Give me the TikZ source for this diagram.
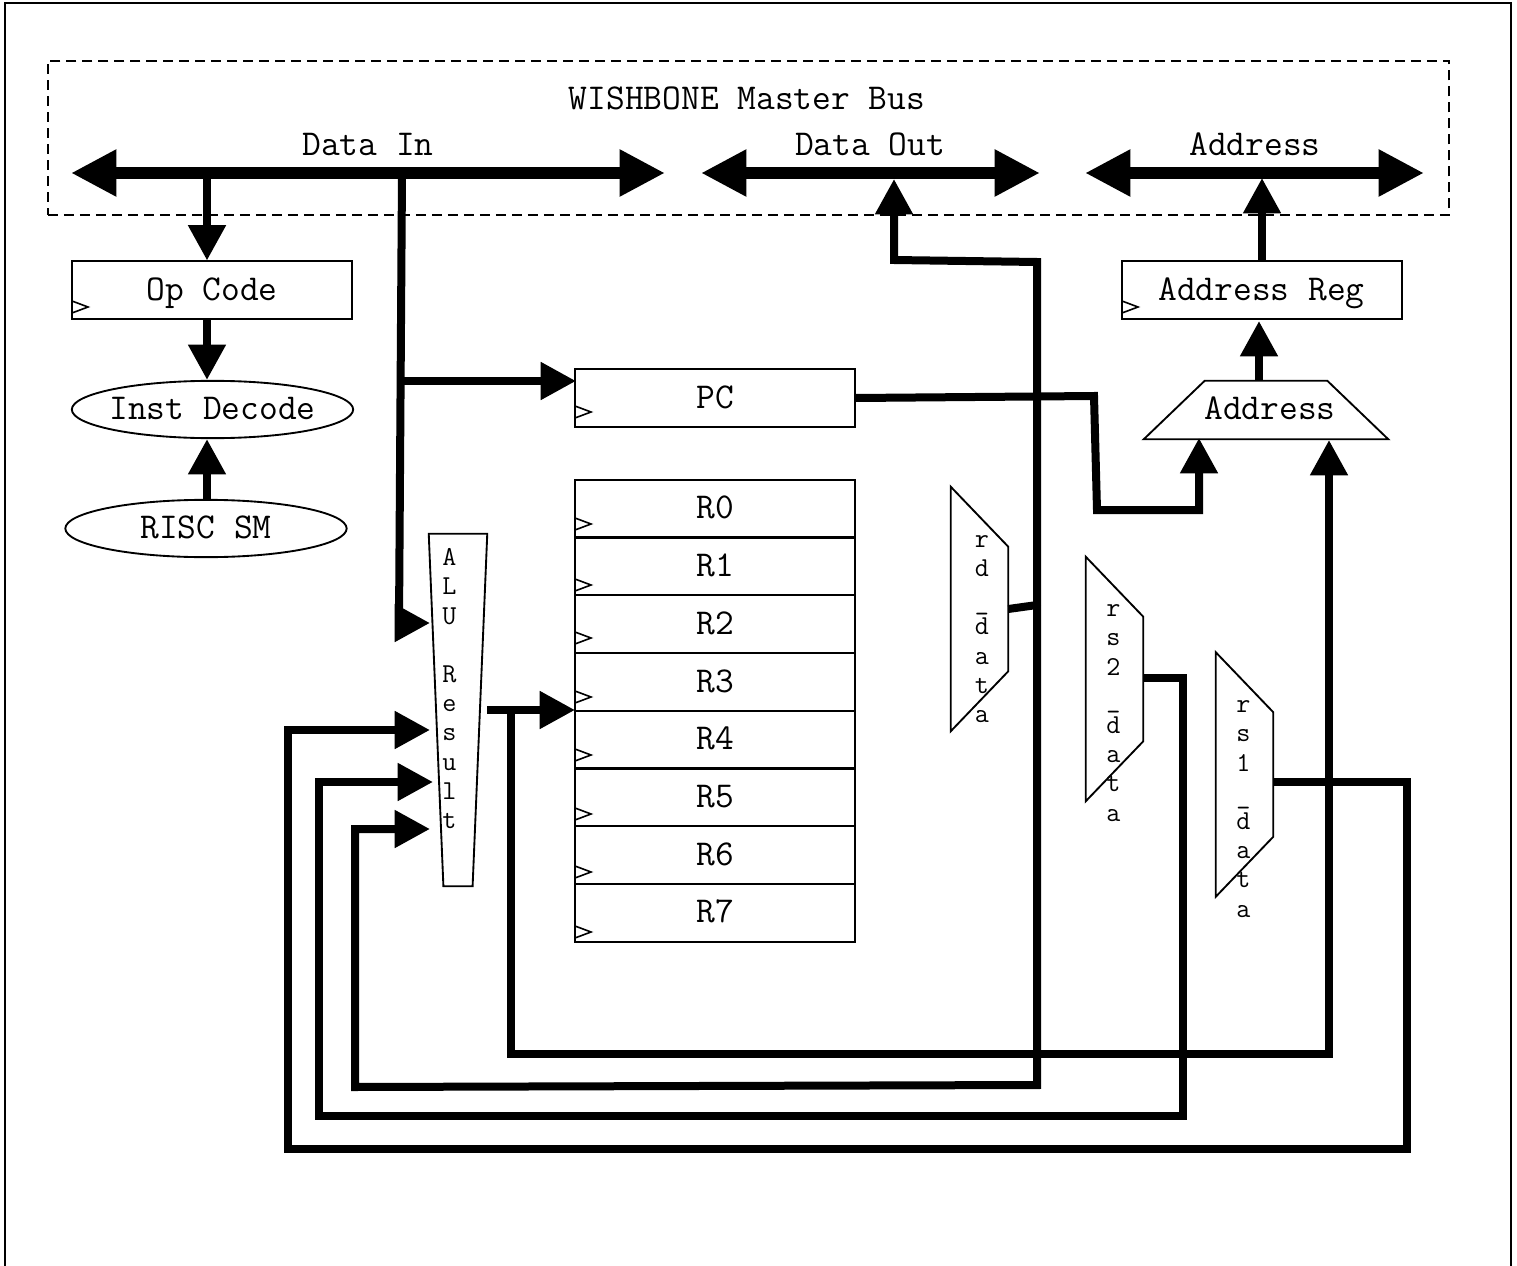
\documentclass[tikz,border=0pt]{standalone}
\usepackage{fontspec}
\usepackage{tikz}
\usetikzlibrary{shapes.geometric, arrows.meta}
\newcommand{\stackbar}{\smash{\raisebox{-2.5pt}{\_}}}

\begin{document}
\begin{tikzpicture}[
    x=0.75pt, y=-0.75pt,
    tag/.style={font=\fontsize{27.3}{27.3}\selectfont\ttfamily, inner sep=0pt},
    stack/.style={font=\fontsize{20.5}{21.9}\selectfont\ttfamily, align=center, inner sep=0pt},
    reg/.style={rectangle, draw, line width=1.5pt, minimum width=210pt, minimum height=43.5pt, inner sep=0pt, text height=17.5pt, text depth=2.5pt, font=\fontsize{27.3}{27.3}\selectfont\ttfamily},
    fsm/.style={ellipse, draw, line width=1.4pt, minimum width=211pt, minimum height=43pt, inner ysep=0pt, inner xsep=-5pt, text height=17.5pt, text depth=2.5pt, font=\fontsize{27.3}{27.3}\selectfont\ttfamily},
    mux/.style={rectangle, minimum width=42.75pt, minimum height=183pt, inner sep=0pt},
    outline/.style={line width=1.4pt},
    clk/.style={line width=1.2pt},
    bus/.style={{Triangle[length=34pt, width=33pt]}-{Triangle[length=34pt, width=33pt]}, line width=9pt},
    wire/.style={-{Triangle[length=26.5pt, width=27pt]}, line width=6pt, line join=miter},
]
\useasboundingbox (0,0) rectangle (1517,1266);

% === Frame and bus area ===
\draw[line width=2.2pt] (5,1270) -- (5,3) -- (1511,3) -- (1511,1270);
\node[rectangle, draw, dashed, dash pattern=on 7.5pt off 4.5pt, line width=1.3pt, minimum width=1051pt, minimum height=115.5pt] (master) at (748.5,138) {};
\node[tag] (mastertext) at (747,98) {WISHBONE Master Bus};
\node[tag] (dintext) at (368,144) {Data In};
\node[tag] (douttext) at (870,144) {Data Out};
\node[tag] (addrtext) at (1255,144) {Address};

% === Left column ===
\node[reg] (opcode) at (212,290.5) {Op Code};
\node[fsm] (decode) at (212.5,409.5) {Inst Decode};
\node[fsm] (risc) at (206,528.5) {RISC SM};

% === Registers ===
\node[reg] (pc) at (715,398) {PC};
\node[reg] (addrreg) at (1261.5,290.5) {Address Reg};
\foreach \i/\y in {0/508.5, 1/566, 2/624, 3/682, 4/739.5, 5/797, 6/855, 7/912.5}
    \node[reg] (r\i) at (715,\y) {R\i};

% === Clock marks ===
\foreach \x/\y in {72/307, 1122/307, 575/412, 575/524, 575/585, 575/638, 575/697, 575/755, 575/814, 575/872, 575/932}
    \draw[clk] (\x,\y-6) -- (\x+16,\y) -- (\x,\y+6);

% === Muxes ===
\node[rectangle, minimum width=183pt, minimum height=43.5pt, inner sep=0pt,
    label={[tag, xshift=3pt, yshift=1.5pt]center:Address}] (addrmux) at (1266,410) {};
\draw[outline] ([xshift=45.75pt]addrmux.north west) -- ([xshift=-45.75pt]addrmux.north east) -- (addrmux.south east) -- (addrmux.south west) -- cycle;
\node[rectangle, minimum width=43.5pt, minimum height=264pt, inner sep=0pt,
    label={[stack, xshift=-6.5pt, yshift=16pt]center:A\\L\\U\\\\R\\e\\s\\u\\l\\t}] (alu) at (458,710) {};
\draw[outline] (alu.north west) -- (alu.north east) -- ([xshift=-11pt]alu.south east) -- ([xshift=11pt]alu.south west) -- cycle;
\foreach \name/\x/\y in {rddata/979.5/609, rstwo/1114.5/679, rsone/1244.5/774.5} {
    \node[mux] (\name) at (\x,\y) {};
    \draw[outline] (\name.north west) -- ([yshift=-45pt]\name.north east) -- ([yshift=45pt]\name.south east) -- (\name.south west) -- cycle;
}
\node[stack] (rdtext) at (982,629) {r\\d\\\stackbar\\d\\a\\t\\a};
\node[stack] (rstwotext) at (1113.5,713) {r\\s\\2\\\stackbar\\d\\a\\t\\a};
\node[stack] (rsonetext) at (1243.5,809) {r\\s\\1\\\stackbar\\d\\a\\t\\a};

% === Bus lines ===
\coordinate (dinleft) at (71,173);
\coordinate (dinright) at (665,173);
\coordinate (doutleft) at (701,173);
\coordinate (doutright) at (1040,173);
\coordinate (addrleft) at (1085,173);
\coordinate (addrright) at (1424,173);
\draw[bus] (dinleft) -- (dinright);
\draw[bus] (doutleft) -- (doutright);
\draw[bus] (addrleft) -- (addrright);

% === Junctions and ALU ports ===
\coordinate (dinop) at (207,173);
\coordinate (dinalu) at (402,173);
\coordinate (dinpc) at (401,381);
\coordinate (aluout) at (487,710);
\coordinate (aluback) at (511,710);
\coordinate (aluina) at (430,623);
\coordinate (aluinb) at (430,730);
\coordinate (aluinc) at (433,782);
\coordinate (aluind) at (430,829);
\coordinate (rdtap) at (1037,605);
\coordinate (rstwotap) at (1183,678);
\coordinate (rsonetap) at (1407,782);

% === Arrows: control path ===
\draw[wire] (dinop) -- (dinop |- opcode.north);
\draw[wire] (dinop |- opcode.south) -- (dinop |- decode.north);
\draw[wire] (dinop |- risc.north) -- (dinop |- decode.south);

% === Arrows: data in ===
\draw[wire] (dinalu) -- (399,623) -- (aluina);
\draw[wire] (dinpc) -- (576,381);
\draw[wire] (aluout) -- (575,710);

% === Arrows: address ===
\draw[wire] (pc.east) -- (1094,396) -- (1097,510) -- (1199,510) -- (1199,438);
\draw[wire] (1259,381) -- (1259,321);
\draw[wire] (1262,262) -- (1262,178);
\draw[wire] (aluback) -- (511,1054) -- (1329,1054) -- (1329,440);

% === Arrows: register outputs ===
\draw[line width=6pt] (rddata.east) -- (rdtap);
\draw[wire] (rdtap) -- (1037,262) -- (894,260) -- (894,179);
\draw[wire] (rdtap) -- (1037,1085) -- (355,1087) -- (355,829) -- (aluind);
\draw[wire] (rstwotap -| rstwo.east) -- (rstwotap) -- (1183,1116) -- (319,1116) -- (319,782) -- (aluinc);
\draw[wire] (rsonetap -| rsone.east) -- (rsonetap) -- (1407,1149) -- (288,1149) -- (288,730) -- (aluinb);

\end{tikzpicture}
\end{document}
